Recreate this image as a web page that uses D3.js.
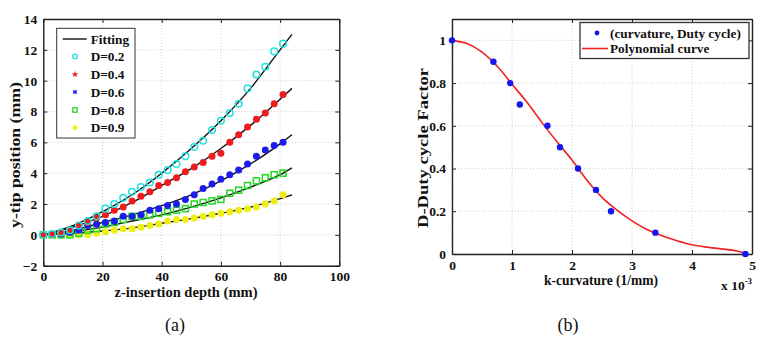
<!DOCTYPE html>
<html><head><meta charset="utf-8">
<script src="https://cdn.jsdelivr.net/npm/d3@7"></script>
<style>
html,body{margin:0;padding:0;background:#fff;}
svg text{font-family:"Liberation Serif","Times New Roman",serif !important;}
</style></head>
<body><svg id="c" width="771" height="346"></svg>
<script>
// ---------- Chart (a) data ----------
const depth = [0,3,6,9,12,15,18,21,24,27,30,33,36,39,42,45,48,51,54,57,60,63,66,69,72,75,78,81];
const d02 = [0,0.05,0.15,0.3,0.6,0.9,1.2,1.7,2.0,2.4,2.8,3.1,3.4,3.9,4.2,4.6,5.1,5.7,6.1,6.8,7.4,7.9,8.5,9.5,10.4,10.9,11.9,12.4];
const d04 = [0,0.05,0.1,0.3,0.6,0.8,1.1,1.3,1.6,1.8,2.2,2.5,2.8,3.2,3.4,3.7,4.1,4.4,4.7,5.1,5.3,6.0,6.5,7.0,7.5,7.9,8.5,9.1];
const d06 = [0,0.02,0.05,0.15,0.3,0.6,0.7,0.8,0.9,1.2,1.2,1.3,1.6,1.7,1.9,2.0,2.3,2.6,3.0,3.3,3.6,3.9,4.2,4.6,5.1,5.5,5.8,6.0];
const d08 = [0,0,0,0,0.1,0.3,0.4,0.7,0.8,1.0,1.2,1.2,1.3,1.4,1.5,1.6,1.7,2.0,2.1,2.2,2.3,2.7,2.9,3.2,3.5,3.7,3.9,4.0];
const d09 = [0,0,0,0,0,0,0.1,0.2,0.3,0.4,0.4,0.5,0.6,0.7,0.9,1.0,1.0,1.1,1.2,1.3,1.4,1.5,1.6,1.7,1.8,2.0,2.2,2.6];
const fitX = [0,10,20,30,40,50,60,70,80,84];
const fit02 = [0,0.6,1.5,2.6,4.0,5.6,7.4,9.5,12.0,13.0];
const fit04 = [0,0.5,1.2,2.1,3.2,4.3,5.6,7.1,8.8,9.5];
const fit06 = [0,0.3,0.8,1.3,1.9,2.6,3.5,4.6,5.9,6.5];
const fit08 = [0,0.2,0.5,0.9,1.3,1.8,2.4,3.1,3.9,4.35];
const fit09 = [0,0.1,0.25,0.45,0.75,1.05,1.4,1.8,2.35,2.6];
const aXTicks = [0,20,40,60,80,100];
const aYTicks = [-2,0,2,4,6,8,10,12,14];
const aLegend = ["Fitting","D=0.2","D=0.4","D=0.6","D=0.8","D=0.9"];

// ---------- Chart (b) data ----------
const kPts = [0,0.69,0.97,1.13,1.59,1.80,2.10,2.40,2.65,3.39,4.89];
const dPts = [1.0,0.9,0.8,0.7,0.6,0.5,0.4,0.3,0.2,0.1,0];
const kFit = [0,0.25,0.5,0.75,1,1.25,1.5,1.75,2,2.25,2.5,2.75,3,3.25,3.5,3.75,4,4.25,4.5,4.75,4.9];
const dFit = [1.0,0.985,0.945,0.88,0.795,0.71,0.615,0.525,0.44,0.345,0.265,0.205,0.155,0.115,0.085,0.062,0.043,0.032,0.024,0.014,0.003];
const bXTicks = [0,1,2,3,4,5];
const bYTicks = [0,0.2,0.4,0.6,0.8,1];
const bLegend = ["(curvature, Duty cycle)","Polynomial curve"];

const svg = d3.select("#c");
const SERIF = "'Liberation Serif','Times New Roman',serif";
const TICK = 13.5, TITLE = 14.5, LEG = 13.3;

function frame(g, x, y, xt, yt, fmtX, fmtY){
  const [x0,x1] = x.range(), [y1,y0] = y.range();
  g.selectAll(".gx").data(xt).join("line").attr("x1",d=>x(d)).attr("x2",d=>x(d)).attr("y1",y0).attr("y2",y1)
    .attr("stroke","#c4c4c4").attr("stroke-width",0.8).attr("stroke-dasharray","1,2");
  g.selectAll(".gy").data(yt).join("line").attr("y1",d=>y(d)).attr("y2",d=>y(d)).attr("x1",x0).attr("x2",x1)
    .attr("stroke","#c4c4c4").attr("stroke-width",0.8).attr("stroke-dasharray","1,2");
  const axB = g.append("g").attr("transform",`translate(0,${y1})`).call(d3.axisBottom(x).tickValues(xt).tickSizeInner(-4).tickSizeOuter(0).tickPadding(6).tickFormat(fmtX));
  const axT = g.append("g").attr("transform",`translate(0,${y0})`).call(d3.axisTop(x).tickValues(xt).tickSizeInner(-4).tickSizeOuter(0).tickFormat(""));
  const axL = g.append("g").attr("transform",`translate(${x0},0)`).call(d3.axisLeft(y).tickValues(yt).tickSizeInner(-4).tickSizeOuter(0).tickPadding(6).tickFormat(fmtY));
  const axR = g.append("g").attr("transform",`translate(${x1},0)`).call(d3.axisRight(y).tickValues(yt).tickSizeInner(-4).tickSizeOuter(0).tickFormat(""));
  [axB,axT,axL,axR].forEach(a=>{
    a.attr("font-family",SERIF);
    a.select(".domain").attr("stroke","#222").attr("stroke-width",1.4);
    a.selectAll(".tick line").attr("stroke","#222").attr("stroke-width",1);
    a.selectAll("text").attr("font-size",TICK).attr("font-weight","bold").attr("fill","#111");
  });
}
function label(g, x, y, t, size, bold, anchor, rot){
  const el = g.append("text").attr("font-family",SERIF).attr("font-size",size)
    .attr("font-weight",bold?"bold":"normal").attr("fill","#111").attr("text-anchor",anchor||"start");
  if(rot) el.attr("transform",`translate(${x},${y}) rotate(${rot})`); else el.attr("x",x).attr("y",y);
  return el.text(t);
}

// ================= Chart (a) =================
const ga = svg.append("g");
const xa = d3.scaleLinear().domain([0,100]).range([43.3,339.3]);
const ya = d3.scaleLinear().domain([-2,14]).range([265.7,19]);
frame(ga, xa, ya, aXTicks, aYTicks, d3.format("d"), d3.format("d"));

const fitLine = d3.line().x(d=>xa(d[0])).y(d=>ya(d[1])).curve(d3.curveMonotoneX);
[fit02,fit04,fit06,fit08,fit09].forEach(f=>{
  ga.append("path").datum(fitX.map((v,i)=>[v,f[i]])).attr("d",fitLine)
    .attr("fill","none").attr("stroke","#111").attr("stroke-width",1.4);
});
const cCyan="#22e0e0", cRed="#ee1c1c", cBlue="#1c1cee", cGreen="#22d822", cYel="#eeee10";
function pts(data, kind, col){
  const sel = ga.append("g").selectAll("g").data(depth.map((v,i)=>[v,data[i]])).join("g")
    .attr("transform",d=>`translate(${xa(d[0])},${ya(d[1])})`);
  if(kind==="ocircle") sel.append("circle").attr("r",3.3).attr("fill","none").attr("stroke",col).attr("stroke-width",1.5);
  if(kind==="dot") sel.append("circle").attr("r",3.5).attr("fill",col);
  if(kind==="osq") sel.append("rect").attr("x",-3).attr("y",-3).attr("width",6).attr("height",6).attr("fill","none").attr("stroke",col).attr("stroke-width",1.5);
}
pts(d09,"dot",cYel);
pts(d08,"osq",cGreen);
pts(d06,"dot",cBlue);
pts(d04,"dot",cRed);
pts(d02,"ocircle",cCyan);

// legend (a)
const lg = ga.append("g");
lg.append("rect").attr("x",56.7).attr("y",28.3).attr("width",78.3).attr("height",109.7)
  .attr("fill","#fff").attr("stroke","#333").attr("stroke-width",1);
const rowsA=[39,56.5,74.3,92,110,127.7];
aLegend.forEach((t,i)=>{
  const y=rowsA[i];
  if(i===0) lg.append("line").attr("x1",62.7).attr("x2",86.7).attr("y1",y).attr("y2",y).attr("stroke","#111").attr("stroke-width",1.4);
  if(i===1) lg.append("circle").attr("cx",75).attr("cy",y).attr("r",2.3).attr("fill","none").attr("stroke",cCyan).attr("stroke-width",1.3);
  if(i===2) lg.append("path").attr("transform",`translate(75,${y})`).attr("d",d3.symbol(d3.symbolStar,14)()).attr("fill",cRed);
  if(i===3) lg.append("path").attr("transform",`translate(75,${y}) rotate(45)`).attr("d",d3.symbol(d3.symbolCross,12)()).attr("fill",cBlue);
  if(i===4) lg.append("rect").attr("x",72.8).attr("y",y-2.2).attr("width",4.4).attr("height",4.4).attr("fill","none").attr("stroke",cGreen).attr("stroke-width",1.3);
  if(i===5) lg.append("circle").attr("cx",75).attr("cy",y).attr("r",2.4).attr("fill",cYel);
  label(lg, 90.7, y, t, LEG, true).attr("dy","0.35em");
});
label(ga, 186, 297, "z-insertion depth (mm)", TITLE, true, "middle")
  .attr("textLength",143).attr("lengthAdjust","spacingAndGlyphs");
label(ga, 20, 155, "y-tip position (mm)", 15, true, "middle", -90)
  .attr("textLength",146).attr("lengthAdjust","spacingAndGlyphs");
label(ga, 175, 331, "(a)", 18, false, "middle");

// ================= Chart (b) =================
const gb = svg.append("g");
const xb = d3.scaleLinear().domain([0,5]).range([452,752]);
const yb = d3.scaleLinear().domain([0,1.1]).range([254,19]);
frame(gb, xb, yb, bXTicks, bYTicks, d3.format("d"), d3.format("~g"));
gb.append("path").datum(kFit.map((v,i)=>[v,dFit[i]]))
  .attr("d",d3.line().x(d=>xb(d[0])).y(d=>yb(d[1])).curve(d3.curveMonotoneX))
  .attr("fill","none").attr("stroke","#ee2222").attr("stroke-width",1.6);
gb.append("g").selectAll("circle").data(kPts.map((v,i)=>[v,dPts[i]])).join("circle")
  .attr("cx",d=>xb(d[0])).attr("cy",d=>yb(d[1])).attr("r",3.2).attr("fill","#1515ee");
const lb = gb.append("g");
lb.append("rect").attr("x",580).attr("y",22.5).attr("width",169).attr("height",36)
  .attr("fill","#fff").attr("stroke","#333").attr("stroke-width",1.3);
lb.append("circle").attr("cx",597).attr("cy",33).attr("r",2.4).attr("fill","#1515ee");
lb.append("line").attr("x1",582).attr("x2",608).attr("y1",48.5).attr("y2",48.5).attr("stroke","#ee2222").attr("stroke-width",1.6);
bLegend.forEach((t,i)=>{ label(lb, 610, [33,48.5][i], t, LEG, true).attr("dy","0.35em"); });
label(gb, 601, 285, "k-curvature (1/mm)", 14, true, "middle")
  .attr("textLength",114).attr("lengthAdjust","spacingAndGlyphs");
const ex = label(gb, 721, 290, "", TICK, true);
ex.append("tspan").text("x 10");
ex.append("tspan").attr("dy",-6).attr("font-size",9).text("-3");
label(gb, 428, 148, "D-Duty cycle Factor", 15, true, "middle", -90)
  .attr("textLength",160).attr("lengthAdjust","spacingAndGlyphs");
label(gb, 568, 331, "(b)", 18, false, "middle");
</script></body></html>
